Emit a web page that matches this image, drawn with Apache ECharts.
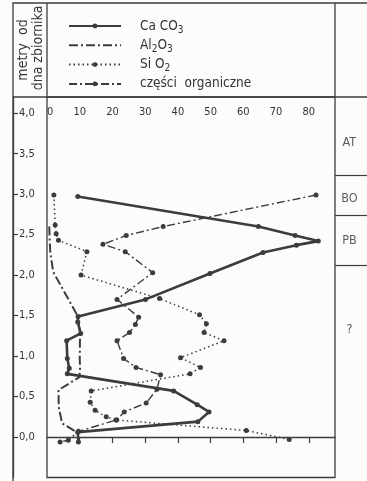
<!DOCTYPE html>
<html>
<head>
<meta charset="utf-8">
<script src="https://cdn.jsdelivr.net/npm/echarts@6/dist/echarts.min.js"></script>
<style>
html,body{margin:0;padding:0;background:#fcfcfa;}
#c{width:367px;height:481px;}
</style>
</head>
<body>
<div id="c"></div>
<script>
// ---- data (depth in metres, value in %) ----
const caco3Depth = [2.97, 2.60, 2.49, 2.42, 2.37, 2.28, 2.02, 1.70, 1.49, 1.42, 1.28, 1.19, 0.97, 0.85, 0.78, 0.57, 0.40, 0.31, 0.19, 0.06, -0.06];
const caco3Value = [9.4, 64.6, 75.8, 82.9, 76.2, 66.0, 49.8, 30.1, 9.5, 9.4, 10.3, 6.0, 6.2, 6.8, 6.2, 38.7, 45.9, 49.5, 46.1, 9.4, 9.6];

const al2o3Depth = [2.60, 2.45, 2.28, 2.04, 1.50, 1.28, 0.97, 0.85, 0.74, 0.58, 0.37, 0.17, 0.07];
const al2o3Value = [0.7, 0.8, 1.0, 1.9, 9.3, 10.1, 10.0, 10.1, 9.9, 3.5, 3.6, 4.6, 8.7];

const sio2Depth = [2.99, 2.62, 2.51, 2.43, 2.29, 2.00, 1.71, 1.51, 1.40, 1.29, 1.19, 0.98, 0.86, 0.78, 0.57, 0.43, 0.33, 0.25, 0.21, 0.08, -0.03];
const sio2Value = [2.1, 2.5, 2.8, 3.5, 12.2, 10.4, 34.4, 46.6, 48.7, 48.0, 54.1, 40.8, 46.9, 43.7, 13.5, 13.2, 14.7, 18.1, 21.2, 60.9, 74.0];

const orgDepth = [2.99, 2.60, 2.49, 2.38, 2.29, 2.03, 1.70, 1.48, 1.39, 1.29, 1.19, 0.97, 0.86, 0.77, 0.59, 0.42, 0.31, 0.21, 0.07, -0.04, -0.06];
const orgValue = [82.2, 35.5, 24.2, 17.1, 23.9, 32.3, 21.4, 28.0, 27.0, 25.2, 21.4, 23.4, 27.2, 34.7, 33.6, 30.3, 23.6, 21.2, 9.6, 6.5, 4.0];

const seriesNames = ['CaCO3', 'Al2O3', 'SiO2', 'części organiczne'];
const xTickLabels = [0, 10, 20, 30, 40, 50, 60, 70, 80];
const yTickLabels = [0, 0.5, 1.0, 1.5, 2.0, 2.5, 3.0, 3.5, 4.0];

const zoneNames = ['AT', 'BO', 'PB', '?'];
const zoneLabelDepth = [3.63, 2.94, 2.43, 1.32];
const zoneBounds = [3.23, 2.74, 2.12];
// -------------------------------------------

const pairs = (v, d) => v.map((x, i) => [x, d[i]]);
const INK = '#3c3c3c';
const FONT = '"DejaVu Sans Condensed","Liberation Sans Narrow","DejaVu Sans",sans-serif';
const Y_MIN = -0.5, Y_MAX = 4.2;

const legendText = {
  'CaCO3': 'Ca CO{sub|3}',
  'Al2O3': 'Al{sub|2}O{sub|3}',
  'SiO2': 'Si O{sub|2}',
  'części organiczne': 'części  organiczne'
};

const chart = echarts.init(document.getElementById('c'), null, {renderer: 'canvas'});
chart.setOption({
  backgroundColor: '#fcfcfa',
  animation: false,
  textStyle: {fontFamily: FONT, color: '#333'},
  grid: [
    {left: 47, right: 32, top: 97, bottom: 3.5, show: true, borderColor: INK, borderWidth: 1.3},
    {left: 335, right: 0, top: 97, bottom: 3.5, show: false},
    {left: 13, width: 34, top: 97, bottom: 3.5, show: false}
  ],
  xAxis: [
    {
      type: 'value', gridIndex: 0, position: 'top', min: 0, max: 88, interval: 10,
      axisLine: {show: true, lineStyle: {color: INK, width: 1.3}},
      axisTick: {show: true, inside: true, length: 6, lineStyle: {color: INK, width: 1.2}, customValues: xTickLabels.slice(1)},
      axisLabel: {inside: true, margin: 10, fontSize: 11, color: '#333', fontFamily: FONT,
        customValues: xTickLabels, alignMinLabel: 'left'},
      splitLine: {show: false}
    },
    {type: 'value', gridIndex: 1, min: 0, max: 1, show: false},
    {type: 'value', gridIndex: 2, min: 0, max: 1, show: false}
  ],
  yAxis: [
    {type: 'value', gridIndex: 0, min: Y_MIN, max: Y_MAX, interval: 0.5, show: false},
    {type: 'value', gridIndex: 1, min: Y_MIN, max: Y_MAX, interval: 0.5, show: false},
    {
      type: 'value', gridIndex: 2, min: Y_MIN, max: Y_MAX, interval: 0.5, position: 'left',
      axisLine: {show: true, lineStyle: {color: INK, width: 1.3}},
      axisTick: {show: true, inside: true, length: 5, lineStyle: {color: INK, width: 1.2}, customValues: yTickLabels},
      axisLabel: {inside: true, margin: 6, fontSize: 11, color: '#333', fontFamily: FONT,
        customValues: yTickLabels, formatter: v => v.toFixed(1).replace('.', ',')},
      splitLine: {show: false}
    }
  ],
  legend: {
    orient: 'vertical', left: 63, top: 12, itemWidth: 52, itemHeight: 6, itemGap: 1.3,
    data: [
      {name: 'CaCO3'},
      {name: 'Al2O3', itemStyle: {opacity: 0}},
      {name: 'SiO2'},
      {name: 'części organiczne'}
    ],
    formatter: n => legendText[n],
    textStyle: {
      fontSize: 13.5, color: '#333', fontFamily: FONT, padding: [0, 0, 0, 14], lineHeight: 18,
      rich: {sub: {fontSize: 10, lineHeight: 10, verticalAlign: 'bottom', fontFamily: FONT, color: '#333'}}
    }
  },
  series: [
    {
      name: 'CaCO3', type: 'line', xAxisIndex: 0, yAxisIndex: 0,
      data: pairs(caco3Value, caco3Depth),
      color: INK, symbol: 'circle', symbolSize: 5,
      lineStyle: {width: 2.6, color: INK}, itemStyle: {color: INK}
    },
    {
      name: 'Al2O3', type: 'line', xAxisIndex: 0, yAxisIndex: 0,
      data: pairs(al2o3Value, al2o3Depth),
      color: INK, symbol: 'none', showSymbol: false,
      lineStyle: {width: 2, color: INK, type: [9, 3, 2, 3]}, itemStyle: {color: INK}
    },
    {
      name: 'SiO2', type: 'line', xAxisIndex: 0, yAxisIndex: 0,
      data: pairs(sio2Value, sio2Depth),
      color: INK, symbol: 'circle', symbolSize: 5,
      lineStyle: {width: 1.5, color: INK, type: [1.5, 3]}, itemStyle: {color: INK}
    },
    {
      name: 'części organiczne', type: 'line', xAxisIndex: 0, yAxisIndex: 0,
      data: pairs(orgValue, orgDepth),
      color: INK, symbol: 'circle', symbolSize: 5,
      lineStyle: {width: 1.4, color: INK, type: [8, 3, 2, 3]}, itemStyle: {color: INK}
    },
    {
      name: 'zones', type: 'scatter', xAxisIndex: 1, yAxisIndex: 1,
      data: zoneNames.map((z, i) => ({value: [0.45, zoneLabelDepth[i]], name: z})),
      symbolSize: 0, silent: true,
      label: {show: true, position: 'inside', formatter: p => p.name, fontSize: 12.5, color: '#333', fontFamily: FONT},
      markLine: {
        silent: true, symbol: 'none', label: {show: false},
        lineStyle: {color: INK, width: 1.2, type: 'solid'},
        data: zoneBounds.map(b => ({yAxis: b}))
      }
    }
  ],
  graphic: [
    {type: 'rect', shape: {x: 13, y: 3, width: 400, height: 520}, style: {fill: 'none', stroke: INK, lineWidth: 1.3}, silent: true},
    {type: 'line', shape: {x1: 47, y1: 3, x2: 47, y2: 97}, style: {stroke: INK, lineWidth: 1.3}, silent: true},
    {type: 'line', shape: {x1: 335, y1: 3, x2: 335, y2: 97}, style: {stroke: INK, lineWidth: 1.3}, silent: true},
    {type: 'line', shape: {x1: 13, y1: 97, x2: 367, y2: 97}, style: {stroke: INK, lineWidth: 1.3}, silent: true},
    {type: 'text', x: 23, y: 50, rotation: Math.PI / 2, silent: true,
      style: {text: 'metry  od', font: '14px ' + FONT, fill: '#333', textAlign: 'center', textVerticalAlign: 'middle'}},
    {type: 'text', x: 38, y: 48, rotation: Math.PI / 2, silent: true,
      style: {text: 'dna zbiornika', font: '14px ' + FONT, fill: '#333', textAlign: 'center', textVerticalAlign: 'middle'}}
  ]
});
</script>
</body>
</html>
